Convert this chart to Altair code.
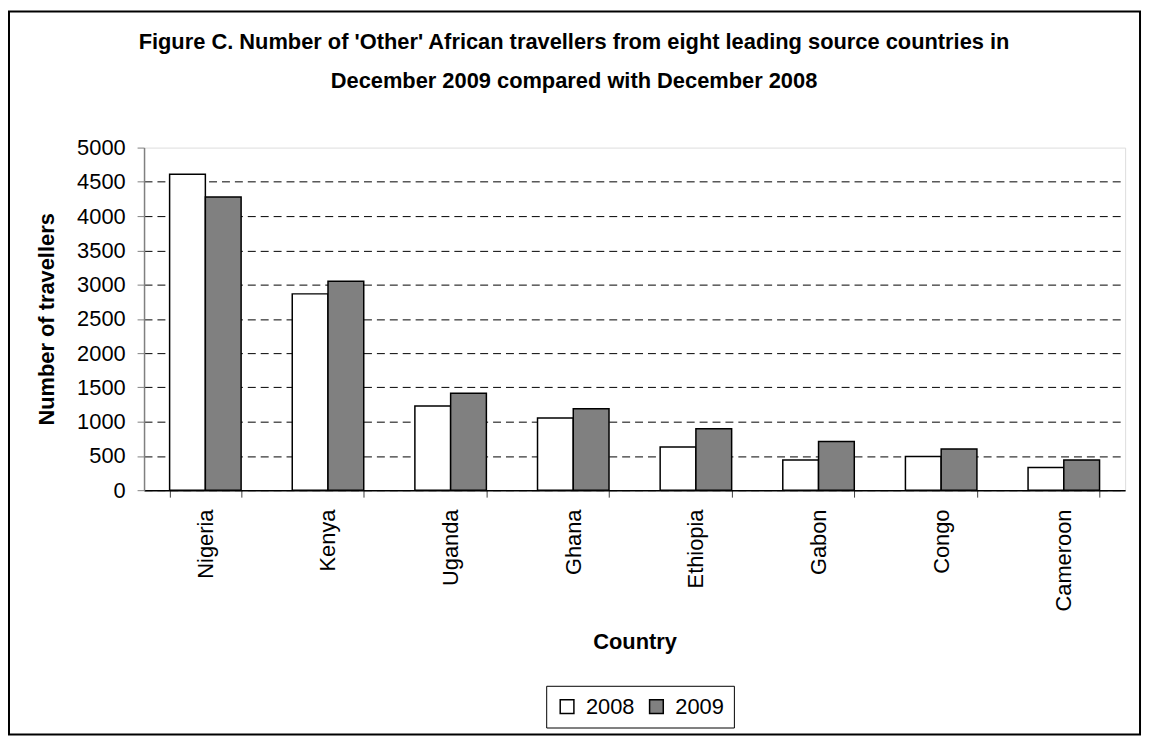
import altair as alt
import pandas as pd

countries = ["Nigeria", "Kenya", "Uganda", "Ghana", "Ethiopia", "Gabon", "Congo", "Cameroon"]
years = ["2008", "2009"]
values_2008 = [4610, 2865, 1230, 1055, 630, 440, 490, 330]
values_2009 = [4280, 3050, 1415, 1190, 895, 710, 600, 440]
y_ticks = [0, 500, 1000, 1500, 2000, 2500, 3000, 3500, 4000, 4500, 5000]
title_lines = [
    "Figure C. Number of 'Other' African travellers from eight leading source countries in",
    "December 2009 compared with December 2008",
]

rows = []
for c, a, b in zip(countries, values_2008, values_2009):
    rows.append({"Country": c, "Year": "2008", "Travellers": a})
    rows.append({"Country": c, "Year": "2009", "Travellers": b})
df = pd.DataFrame(rows)

FONT = "Liberation Sans"
FS = 22
W, H = 988, 345

bars = alt.Chart(df).mark_bar(stroke="black", strokeWidth=1.5).encode(
    x=alt.X(
        "Country:N",
        sort=countries,
        scale=alt.Scale(paddingInner=0.417, paddingOuter=0.2085),
        axis=alt.Axis(
            title="Country",
            titleFont=FONT, titleFontSize=FS, titleFontWeight="bold", titleColor="black",
            titleY=159, titleBaseline="alphabetic",
            labelAngle=-90, labelFont=FONT, labelFontSize=FS, labelColor="black",
            labelPadding=12, tickBand="extent", tickSize=7, tickColor="#404040",
            domainColor="black", domainWidth=1.5, grid=False,
        ),
    ),
    xOffset=alt.XOffset("Year:N", sort=years, scale=alt.Scale(paddingInner=0, paddingOuter=0)),
    y=alt.Y(
        "Travellers:Q",
        scale=alt.Scale(domain=[0, 5000], nice=False),
        axis=alt.Axis(
            title="Number of travellers",
            titleFont=FONT, titleFontSize=FS, titleFontWeight="bold", titleColor="black",
            titleX=-98, titleY=H / 2, titleBaseline="middle", titleAngle=-90,
            values=y_ticks, format="d", labelFont=FONT, labelFontSize=FS, labelColor="black",
            labelPadding=12, tickSize=7, tickColor="#808080",
            domainColor="#808080", domainWidth=1.5,
            grid=True, gridDash=[8, 5], gridWidth=1,
            gridColor={"condition": {"test": "datum.value === 5000", "value": "transparent"}, "value": "black"},
        ),
    ),
    color=alt.Color(
        "Year:N",
        sort=years,
        scale=alt.Scale(domain=years, range=["white", "#808080"]),
        legend=alt.Legend(
            title=None, orient="none", direction="horizontal",
            legendX=405, legendY=542,
            labelFont=FONT, labelFontSize=FS, labelColor="black",
            symbolType="square", symbolSize=190, symbolStrokeColor="black", symbolStrokeWidth=1.5,
            strokeColor="black", padding=10, columnPadding=11, labelOffset=8, fillColor="white",
        ),
    ),
)

one = pd.DataFrame({"k": [0]})
border = alt.Chart(one).mark_rect(fill="transparent", stroke="black", strokeWidth=2).encode(
    x=alt.value(-136), x2=alt.value(W + 15), y=alt.value(-137), y2=alt.value(H + 246)
)

title = alt.Chart(one).mark_text(
    text=title_lines, font=FONT, fontSize=FS, fontWeight="bold", color="black",
    align="center", baseline="alphabetic", lineHeight=38.5,
).encode(x=alt.value(433), y=alt.value(-99))

chart = alt.layer(border, title, bars).properties(
    width=W,
    height=H,
    autosize=alt.AutoSizeParams(type="none"),
    padding={"left": 137, "top": 138, "right": 18, "bottom": 248},
).configure_view(stroke="#808080", strokeWidth=1.5).configure(background="white")

chart.save("out.html", embed_options={"renderer": "svg", "actions": False})
